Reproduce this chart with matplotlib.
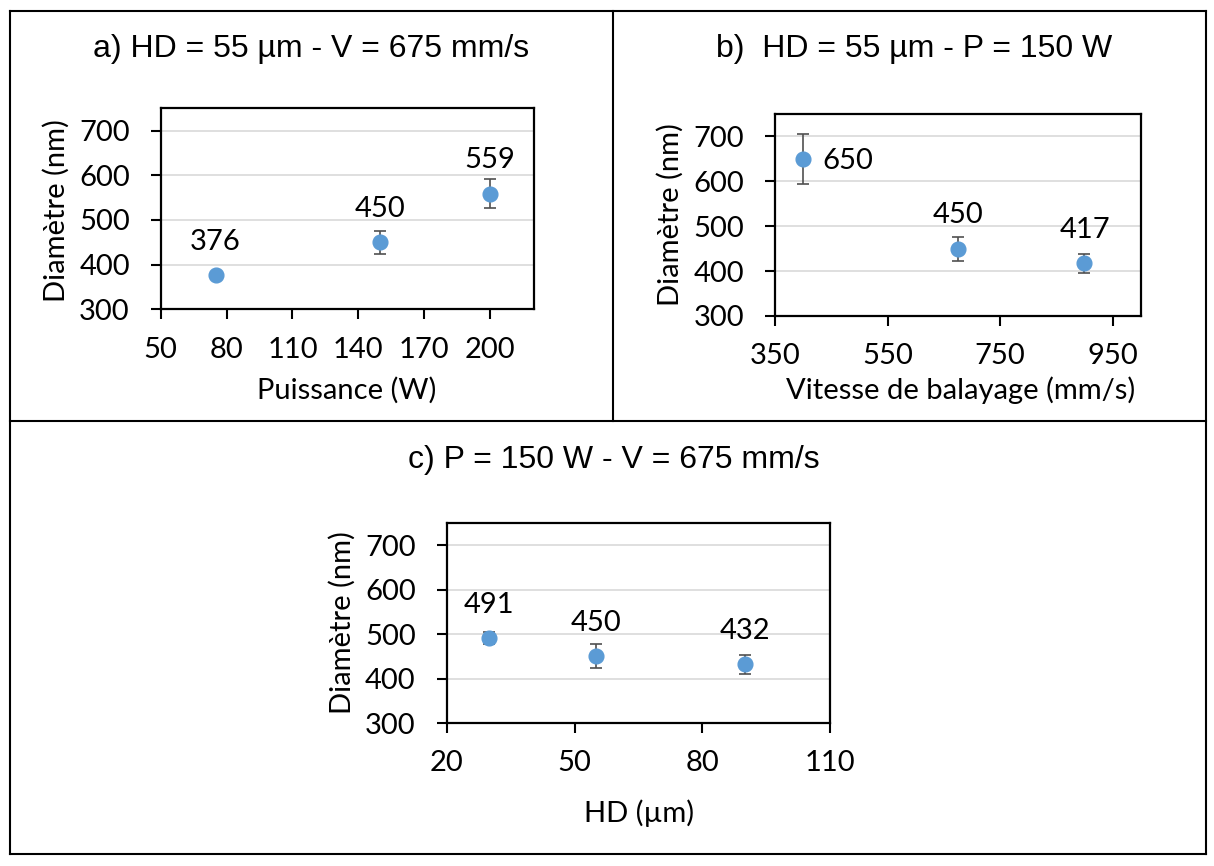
import matplotlib
matplotlib.use('Agg')
import matplotlib.pyplot as plt
from matplotlib.lines import Line2D

# data
puissance = [75, 150, 200]
diam_a = [376, 450, 559]
err_a = [8, 26, 33]

vitesse = [400, 675, 900]
diam_b = [650, 450, 417]
err_b = [55, 27, 21]

hd = [30, 55, 90]
diam_c = [491, 450, 432]
err_c = [14, 27, 22]

yticks = [300, 400, 500, 600, 700]
xticks_a = [50, 80, 110, 140, 170, 200]
xticks_b = [350, 550, 750, 950]
xticks_c = [20, 50, 80, 110]

titles = ['a) HD = 55 µm - V = 675 mm/s',
          'b)  HD = 55 µm - P = 150 W',
          'c) P = 150 W - V = 675 mm/s']
xlabels = ['Puissance (W)', 'Vitesse de balayage (mm/s)', 'HD (µm)']
ylabel = 'Diamètre (nm)'

plt.rcParams['font.family'] = ['Lato', 'DejaVu Sans']
FS = 21

W, H = 1214, 866
fig = plt.figure(figsize=(W / 100, H / 100), dpi=100)


def fx(px):
    return px / W


def fy(py):
    return 1 - py / H


def make_axes(l, r, t, b):
    return fig.add_axes([fx(l), fy(b), (r - l) / W, (b - t) / H])


def style(ax, xlim, xticks):
    ax.set_xlim(*xlim)
    ax.set_ylim(300, 750)
    ax.set_xticks(xticks)
    ax.set_yticks(yticks)
    ax.tick_params(direction='out', length=7.2, width=1.5, labelsize=FS,
                   pad=12.5, top=False, right=False, colors='black')
    ax.tick_params(axis='y', pad=15)
    for s in ax.spines.values():
        s.set_linewidth(1.6)
        s.set_color('black')
    ax.yaxis.grid(True, color='#d9d9d9', linewidth=1.2)
    ax.set_axisbelow(True)


def draw(ax, x, y, err):
    ax.errorbar(x, y, yerr=err, fmt='none', ecolor='#505050', elinewidth=1.2,
                capsize=4.3, capthick=1.2, zorder=3)
    ax.plot(x, y, 'o', color='#5B9BD5', markersize=10.6, zorder=4)


def label_above(ax, x, y):
    for xv, yv in zip(x, y):
        ax.annotate(str(yv), (xv, yv), xytext=(0, 18.4), textcoords='offset points',
                    ha='center', va='baseline', fontsize=FS)


# panel a
ax_a = make_axes(160.7, 534, 108.3, 309.3)
style(ax_a, (50, 220), xticks_a)
draw(ax_a, puissance, diam_a, err_a)
label_above(ax_a, puissance, diam_a)

# panel b (first label sits to the right of its point)
ax_b = make_axes(775.3, 1140.7, 114, 316)
style(ax_b, (350, 1000), xticks_b)
draw(ax_b, vitesse, diam_b, err_b)
ax_b.annotate(str(diam_b[0]), (vitesse[0], diam_b[0]), xytext=(13.7, -7.5),
              textcoords='offset points', ha='left', va='baseline', fontsize=FS)
label_above(ax_b, vitesse[1:], diam_b[1:])

# panel c
ax_c = make_axes(446.6, 830.4, 523.3, 723)
style(ax_c, (20, 110), xticks_c)
draw(ax_c, hd, diam_c, err_c)
label_above(ax_c, hd, diam_c)

# titles (Arial-like)
title_pos = [(311, 57.3), (914, 56.7), (613.8, 468.3)]
for t, (px, py) in zip(titles, title_pos):
    fig.text(fx(px), fy(py), t, ha='center', va='baseline', fontsize=23,
             family=['Liberation Sans', 'DejaVu Sans'])

# axis labels
xlabel_pos = [(347, 390), (961, 390), (638.7, 813)]
for t, (px, py) in zip(xlabels, xlabel_pos):
    fig.text(fx(px), fy(py), t, ha='center', va='center', fontsize=FS)
ylabel_pos = [(56.7, 211), (670.5, 215), (342, 623)]
for px, py in ylabel_pos:
    fig.text(fx(px), fy(py), ylabel, ha='center', va='center', rotation=90, fontsize=FS)

# table frame around the three panels
frame = [((10, 1206), (11, 11)), ((10, 1206), (854, 854)),
         ((10, 10), (11, 854)), ((1206, 1206), (11, 854)),
         ((10, 1206), (421, 421)), ((612.7, 612.7), (11, 421))]
for xs, ys in frame:
    fig.add_artist(Line2D([fx(v) for v in xs], [fy(v) for v in ys],
                          transform=fig.transFigure, color='black', linewidth=1.5))

fig.savefig('out.png', dpi=100)
